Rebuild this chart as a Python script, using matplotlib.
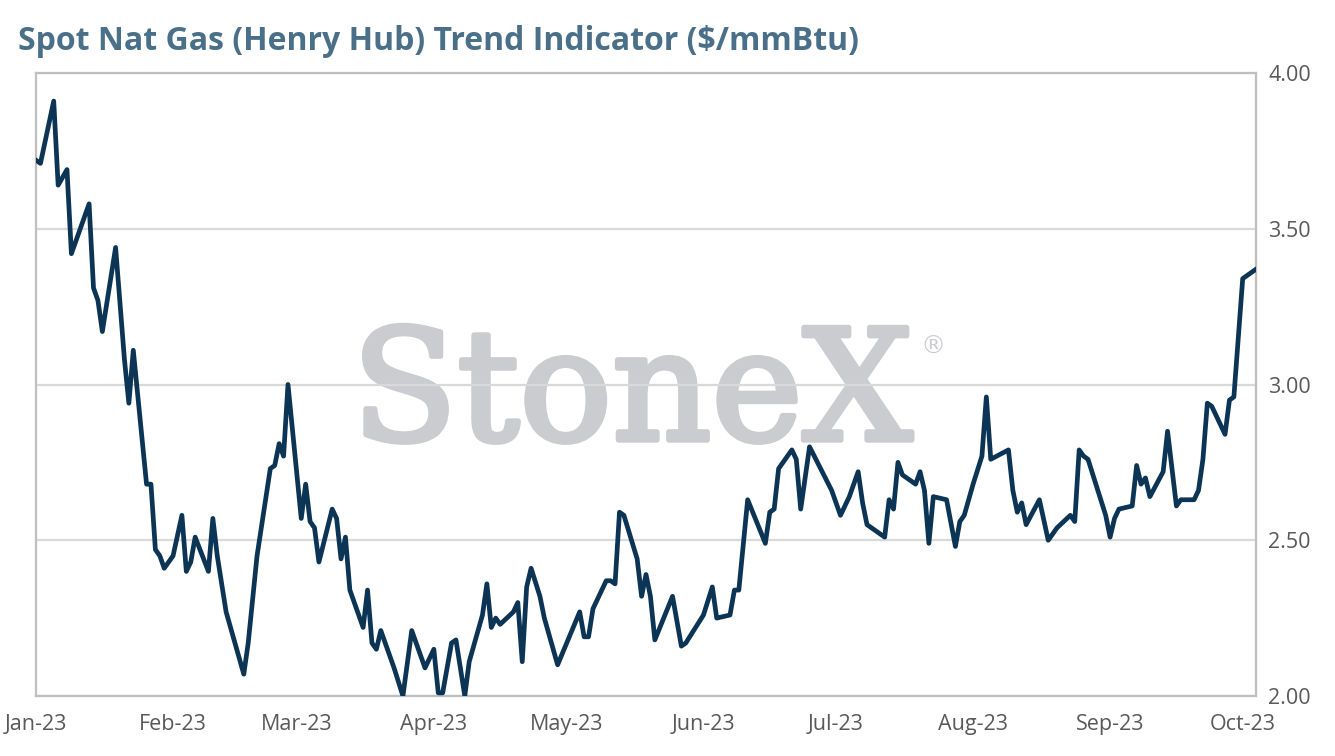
import matplotlib
matplotlib.use("Agg")
import matplotlib.pyplot as plt
import matplotlib.dates as mdates
import matplotlib.patheffects as pe
import numpy as np
import pandas as pd

# valores (Henry Hub spot, $/mmBtu)
dates = [
    "2023-01-01", "2023-01-02", "2023-01-05", "2023-01-06", "2023-01-08", "2023-01-09",
    "2023-01-13", "2023-01-14", "2023-01-15", "2023-01-16", "2023-01-19", "2023-01-21",
    "2023-01-22", "2023-01-23", "2023-01-26", "2023-01-27", "2023-01-28", "2023-01-29",
    "2023-01-30", "2023-02-01", "2023-02-03", "2023-02-04", "2023-02-05", "2023-02-06",
    "2023-02-09", "2023-02-10", "2023-02-11", "2023-02-13", "2023-02-17", "2023-02-18",
    "2023-02-20", "2023-02-23", "2023-02-24", "2023-02-25", "2023-02-26", "2023-02-27",
    "2023-03-02", "2023-03-03", "2023-03-04", "2023-03-05", "2023-03-06", "2023-03-09",
    "2023-03-10", "2023-03-11", "2023-03-12", "2023-03-13", "2023-03-16", "2023-03-17",
    "2023-03-18", "2023-03-19", "2023-03-20", "2023-03-23", "2023-03-25", "2023-03-27",
    "2023-03-30", "2023-04-01", "2023-04-02", "2023-04-03", "2023-04-05", "2023-04-06",
    "2023-04-08", "2023-04-09", "2023-04-12", "2023-04-13", "2023-04-14", "2023-04-15",
    "2023-04-16", "2023-04-19", "2023-04-20", "2023-04-21", "2023-04-22", "2023-04-23",
    "2023-04-25", "2023-04-26", "2023-04-29", "2023-05-04", "2023-05-05", "2023-05-06",
    "2023-05-07", "2023-05-10", "2023-05-11", "2023-05-12", "2023-05-13", "2023-05-14",
    "2023-05-17", "2023-05-18", "2023-05-19", "2023-05-20", "2023-05-21", "2023-05-25",
    "2023-05-27", "2023-05-28", "2023-06-01", "2023-06-03", "2023-06-04", "2023-06-07",
    "2023-06-08", "2023-06-09", "2023-06-11", "2023-06-15", "2023-06-16", "2023-06-17",
    "2023-06-18", "2023-06-21", "2023-06-22", "2023-06-23", "2023-06-25", "2023-06-30",
    "2023-07-01", "2023-07-02", "2023-07-04", "2023-07-06", "2023-07-07", "2023-07-08",
    "2023-07-12", "2023-07-13", "2023-07-14", "2023-07-15", "2023-07-16", "2023-07-19",
    "2023-07-20", "2023-07-21", "2023-07-22", "2023-07-23", "2023-07-26", "2023-07-28",
    "2023-07-29", "2023-07-30", "2023-08-01", "2023-08-03", "2023-08-04", "2023-08-05",
    "2023-08-09", "2023-08-10", "2023-08-11", "2023-08-12", "2023-08-13", "2023-08-16",
    "2023-08-18", "2023-08-20", "2023-08-23", "2023-08-24", "2023-08-25", "2023-08-26",
    "2023-08-27", "2023-08-31", "2023-09-01", "2023-09-02", "2023-09-03", "2023-09-06",
    "2023-09-07", "2023-09-08", "2023-09-09", "2023-09-10", "2023-09-13", "2023-09-14",
    "2023-09-16", "2023-09-17", "2023-09-20", "2023-09-21", "2023-09-22", "2023-09-23",
    "2023-09-24", "2023-09-27", "2023-09-28", "2023-09-29", "2023-10-01", "2023-10-04",
]
prices = [
    3.72, 3.71, 3.91, 3.64, 3.69, 3.42,
    3.58, 3.31, 3.27, 3.17, 3.44, 3.08,
    2.94, 3.11, 2.68, 2.68, 2.47, 2.45,
    2.41, 2.45, 2.58, 2.40, 2.43, 2.51,
    2.40, 2.57, 2.45, 2.27, 2.07, 2.17,
    2.45, 2.73, 2.74, 2.81, 2.77, 3.00,
    2.57, 2.68, 2.56, 2.54, 2.43, 2.60,
    2.57, 2.44, 2.51, 2.34, 2.22, 2.34,
    2.17, 2.15, 2.21, 2.09, 2.00, 2.21,
    2.09, 2.15, 2.01, 2.01, 2.17, 2.18,
    2.00, 2.11, 2.26, 2.36, 2.22, 2.25,
    2.23, 2.27, 2.30, 2.11, 2.35, 2.41,
    2.32, 2.25, 2.10, 2.27, 2.19, 2.19,
    2.28, 2.37, 2.37, 2.36, 2.59, 2.58,
    2.44, 2.32, 2.39, 2.32, 2.18, 2.32,
    2.16, 2.17, 2.26, 2.35, 2.25, 2.26,
    2.34, 2.34, 2.63, 2.49, 2.59, 2.60,
    2.73, 2.79, 2.76, 2.60, 2.80, 2.66,
    2.62, 2.58, 2.64, 2.72, 2.62, 2.55,
    2.51, 2.63, 2.60, 2.75, 2.71, 2.68,
    2.72, 2.66, 2.49, 2.64, 2.63, 2.48,
    2.56, 2.58, 2.68, 2.77, 2.96, 2.76,
    2.79, 2.66, 2.59, 2.62, 2.55, 2.63,
    2.50, 2.54, 2.58, 2.56, 2.79, 2.77,
    2.76, 2.58, 2.51, 2.57, 2.60, 2.61,
    2.74, 2.68, 2.70, 2.64, 2.72, 2.85,
    2.61, 2.63, 2.63, 2.66, 2.76, 2.94,
    2.93, 2.84, 2.95, 2.96, 3.34, 3.37,
]
month_ticks = ["2023-01-01", "2023-02-01", "2023-03-01", "2023-04-01", "2023-05-01",
               "2023-06-01", "2023-07-01", "2023-08-01", "2023-09-01", "2023-10-01"]
y_ticks = [2.00, 2.50, 3.00, 3.50, 4.00]

x = pd.to_datetime(dates)

fig = plt.figure(figsize=(13.35, 7.56), dpi=100)
ax1 = fig.add_axes([0.027, 0.0794, 0.9138, 0.824])

# marca d'agua atras de tudo (contorno da mesma cor deixa o traco mais grosso)
ax1.text(0.4885, 0.411, "StoneX", transform=ax1.transAxes, ha="center", va="baseline",
         fontsize=111, family="DejaVu Serif", color="#CBCCD0", zorder=0,
         path_effects=[pe.withStroke(linewidth=4, foreground="#CBCCD0")])
ax1.text(0.735, 0.56, "\u00ae", transform=ax1.transAxes, ha="center", va="center",
         fontsize=18, family="DejaVu Sans", color="#CBCCD0", zorder=0)

ax1.plot(x, prices, color="#0C3455", linewidth=3.4, solid_joinstyle="round", zorder=3)

ax1.set_xlim(x[0], x[-1])
ax1.set_ylim(2.0, 4.0)
ax1.set_yticks(y_ticks)
ax1.set_yticklabels(["%.2f" % v for v in y_ticks])
ax1.yaxis.tick_right()
ax1.set_xticks(pd.to_datetime(month_ticks))
ax1.xaxis.set_major_formatter(mdates.DateFormatter("%b-%y"))
ax1.tick_params(length=0, labelsize=15.5, labelcolor="#595959")
ax1.tick_params(axis="x", pad=13)
ax1.tick_params(axis="y", pad=9)
for label in ax1.get_xticklabels() + ax1.get_yticklabels():
    label.set_family("Open Sans")

ax1.grid(True, axis="y", color="#D9D9D9", linewidth=1.6, zorder=1)
ax1.set_axisbelow(True)
for s in ax1.spines.values():
    s.set_color("#BFBFBF")
    s.set_linewidth(1.6)

fig.text(0.0135, 0.945, "Spot Nat Gas (Henry Hub) Trend Indicator ($/mmBtu)",
         fontsize=23, fontweight="bold", family="Open Sans", color="#4A7089", va="center")

fig.savefig("out.png", dpi=100)
